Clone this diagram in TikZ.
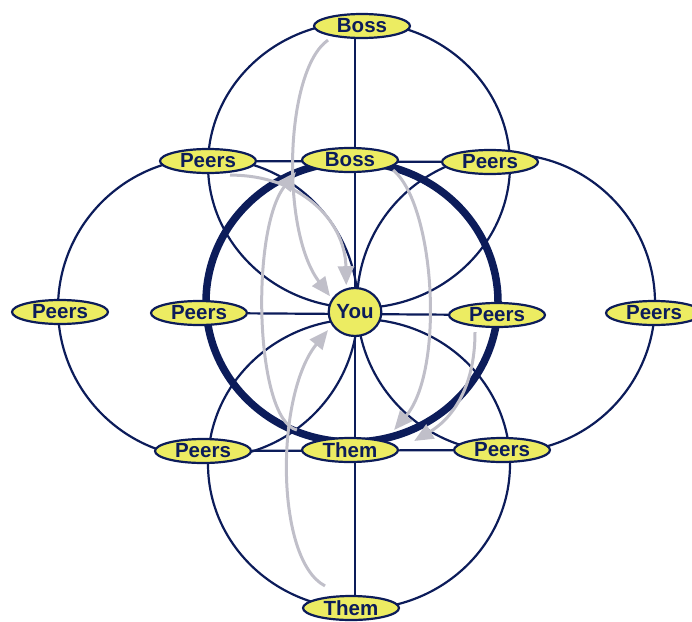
\documentclass[tikz,border=0pt]{standalone}
\usepackage{fontspec}
\setmainfont{Liberation Sans}
\usepackage{xcolor}
\usepackage{tikz}
\usetikzlibrary{arrows.meta,shapes.geometric,backgrounds}
\definecolor{navy}{RGB}{12,28,90}
\definecolor{lemon}{RGB}{236,236,98}
\definecolor{haze}{RGB}{192,191,201}

\begin{document}
\begin{tikzpicture}[x=1pt,y=-1pt,font=\bfseries\fontsize{20.5}{20.5}\selectfont,
  bubble/.style={ellipse,draw=navy,line width=2.2pt,fill=lemon,text=navy,inner sep=0pt,minimum width=96pt,minimum height=24pt},
  orbit/.style={draw=navy,line width=2.2pt},
  flow/.style={draw=haze,line width=3pt,-{Triangle[length=19pt,width=16pt]}}]
\useasboundingbox (0,0) rectangle (692,621);
% labels
\node[bubble] (bosstop) at (362,26) {Boss};
\node[bubble] (bossin) at (350,160) {Boss};
\node[bubble] (peerstl) at (208,161) {Peers};
\node[bubble] (peerstr) at (490,162) {Peers};
\node[bubble] (peersfl) at (60,312) {Peers};
\node[bubble] (peersil) at (199,313) {Peers};
\node[bubble] (peersir) at (497,315) {Peers};
\node[bubble] (peersfr) at (654,313) {Peers};
\node[bubble] (peersbl) at (203,451) {Peers};
\node[bubble] (themin) at (350,450) {Them};
\node[bubble] (peersbr) at (502,450) {Peers};
\node[bubble] (thembot) at (351,608) {Them};
\node[bubble,minimum width=52pt,minimum height=48pt] (you) at (355,312) {You};

\begin{scope}[on background layer]
% four circles meeting at You
\draw[orbit] (359,165) ellipse[x radius=151pt,y radius=143pt];
\draw[orbit] (359,464) ellipse[x radius=151pt,y radius=145pt];
\draw[orbit] (208,308) ellipse[x radius=150pt,y radius=150pt];
\draw[orbit] (506,303) ellipse[x radius=149pt,y radius=149pt];
% cross lines
\draw[orbit] (you |- bosstop) -- (you |- thembot);
\draw[orbit] (peerstl) -- (peerstr);
\draw[orbit] (peersil) -- (peersir);
\draw[orbit] (peersbl) -- (peersbr);
% inner ring
\draw[navy,line width=7.5pt] (352,302) ellipse[x radius=146pt,y radius=140pt];
% grey flows
\draw[flow,shorten >=3pt] ([xshift=-34pt,yshift=-1pt]bosstop.south) .. controls (285,70) and (280,230) .. (you.150);
\draw[flow,shorten >=3pt] ([xshift=22pt,yshift=-1pt]peerstl.south) .. controls (300,175) and (345,220) .. (you.110);
\draw[flow,shorten >=6pt] ([xshift=-26pt,yshift=9pt]thembot.north) .. controls (275,560) and (275,395) .. (you.210);
\draw[flow] ([xshift=-4pt,yshift=20pt]themin.west) .. controls (255,420) and (250,230) .. ([xshift=-5pt,yshift=-12pt]bossin.west);
\draw[flow] ([xshift=-6pt,yshift=-10pt]bossin.east) .. controls (435,205) and (445,370) .. ([xshift=-5pt,yshift=20pt]themin.east);
\draw[flow] ([xshift=-22pt,yshift=-4pt]peersir.south) .. controls (475,390) and (450,420) .. ([xshift=15pt,yshift=9pt]themin.east);
\end{scope}
\end{tikzpicture}
\end{document}
